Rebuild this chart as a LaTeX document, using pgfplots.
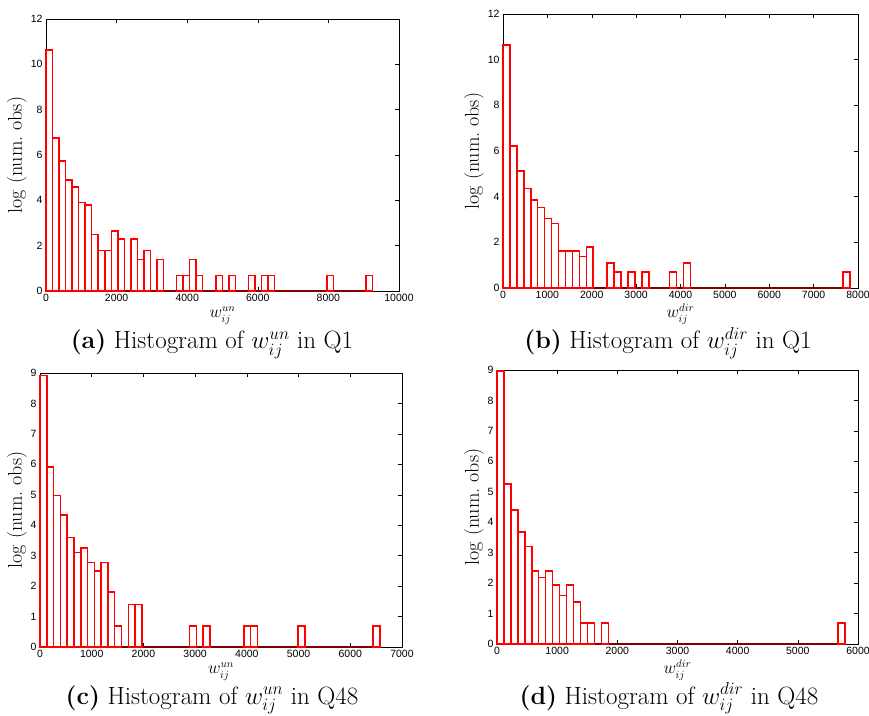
\documentclass[border=0pt]{standalone}
\usepackage{fontspec}
\usepackage{pgfplots}
\pgfplotsset{compat=1.18}
\newfontfamily\ticksf{Liberation Sans}
\definecolor{mred}{RGB}{255,0,0}
\definecolor{basered}{RGB}{128,0,0}
\pgfplotsset{
  mstyle/.style={
    scale only axis, anchor=south west,
    axis line style={black, line width=0.7pt},
    every tick/.style={black, line width=0.5pt},
    tick align=inside, major tick length=4pt,
    tick label style={font=\ticksf\fontsize{10.5}{12}\selectfont},
    /pgf/number format/assume math mode=true,
    /pgf/number format/1000 sep={},
    scaled x ticks=false, scaled y ticks=false,
    ylabel={log (num.\ obs)},
    ylabel style={font=\fontsize{20}{22}\selectfont, yshift=-3pt},
    xlabel style={font=\fontsize{16}{18}\selectfont, inner sep=0pt, yshift=-1.5pt},
    ymin=0, clip=false,
  },
  hbar/.style={ybar, bar width=#1, bar shift=0pt, draw=mred, fill=white, line width=1.5pt},
  base/.style={draw=basered, line width=1.4pt, mark=none},
}
\tikzset{mycap/.style={anchor=base, inner sep=0pt, font=\fontsize{25}{28}\selectfont}}
\pgfplotstableread{
x h
92.5 10.63
277.5 6.76
462.5 5.73
647.5 4.89
832.5 4.58
1017.5 3.90
1202.5 3.80
1387.5 2.49
1572.5 1.79
1757.5 1.79
1942.5 2.64
2127.5 2.30
2497.5 2.30
2682.5 1.39
2867.5 1.79
3237.5 1.39
3792.5 0.69
3977.5 0.69
4162.5 1.39
4347.5 0.69
4902.5 0.69
5272.5 0.69
5827.5 0.69
6197.5 0.69
6382.5 0.69
8047.5 0.69
9157.5 0.69
}\dataA
\pgfplotstableread{
x h
78.2 10.64
234.6 6.22
391.0 5.12
547.4 4.36
703.8 3.85
860.2 3.53
1016.6 3.05
1173.0 2.83
1329.4 1.61
1485.8 1.61
1642.2 1.61
1798.6 1.39
1955.0 1.79
2424.2 1.10
2580.6 0.69
2893.4 0.69
3206.2 0.69
3831.8 0.69
4144.6 1.10
7741.8 0.69
}\dataB
\pgfplotstableread{
x h
65.7 8.92
197.1 5.91
328.5 4.98
459.9 4.34
591.3 3.59
722.7 3.10
854.1 3.26
985.5 2.78
1116.9 2.50
1248.3 2.78
1379.7 1.80
1511.1 0.69
1773.9 1.39
1905.3 1.39
2956.5 0.69
3219.3 0.69
4007.7 0.69
4139.1 0.69
5059.0 0.69
6504.3 0.69
}\dataC
\pgfplotstableread{
x h
57.8 8.97
173.4 5.25
289.0 4.40
404.6 3.68
520.2 3.21
635.8 2.39
751.4 2.19
867.0 2.39
982.6 1.93
1098.2 1.60
1213.8 1.93
1329.4 1.38
1445.0 0.69
1560.6 0.69
1791.8 0.69
5722.2 0.69
}\dataD
\begin{document}
\begin{tikzpicture}
\useasboundingbox (0,0) rectangle (869pt,715pt);
% (a)
\begin{axis}[mstyle, at={(46pt,424pt)}, width=353pt, height=272pt,
  xmin=0, xmax=10000, ymax=12, xtick={0,2000,...,10000}, ytick={0,2,...,12},
  xlabel={$w_{ij}^{un}$}]
\addplot[base] coordinates {(0,0) (9250,0)};
\addplot[hbar=185] table[x=x,y=h] {\dataA};
\end{axis}
% (b)
\begin{axis}[mstyle, at={(503pt,427pt)}, width=355pt, height=274pt,
  xmin=0, xmax=8000, ymax=12, xtick={0,1000,...,8000}, ytick={0,2,...,12},
  xlabel={$w_{ij}^{dir}$}]
\addplot[base] coordinates {(0,0) (7820,0)};
\addplot[hbar=156.4] table[x=x,y=h] {\dataB};
\end{axis}
% (c)
\begin{axis}[mstyle, at={(40pt,68pt)}, width=362pt, height=274pt,
  xmin=0, xmax=7000, ymax=9, xtick={0,1000,...,7000}, ytick={0,1,...,9},
  xlabel={$w_{ij}^{un}$}]
\addplot[base] coordinates {(0,0) (6570,0)};
\addplot[hbar=131.4] table[x=x,y=h] {\dataC};
\end{axis}
% (d)
\begin{axis}[mstyle, at={(497pt,71pt)}, width=361pt, height=274pt,
  xmin=0, xmax=6000, ymax=9, xtick={0,1000,...,6000}, ytick={0,1,...,9},
  xlabel={$w_{ij}^{dir}$}]
\addplot[base] coordinates {(0,0) (5780,0)};
\addplot[hbar=115.6] table[x=x,y=h] {\dataD};
\end{axis}
% captions
\node[mycap] at (212pt,366pt) {\textbf{(a)} Histogram of $w_{ij}^{un}$ in Q1};
\node[mycap] at (668pt,366pt) {\textbf{(b)} Histogram of $w_{ij}^{dir}$ in Q1};
\node[mycap] at (212pt,11pt) {\textbf{(c)} Histogram of $w_{ij}^{un}$ in Q48};
\node[mycap] at (669pt,11pt) {\textbf{(d)} Histogram of $w_{ij}^{dir}$ in Q48};
\end{tikzpicture}
\end{document}
